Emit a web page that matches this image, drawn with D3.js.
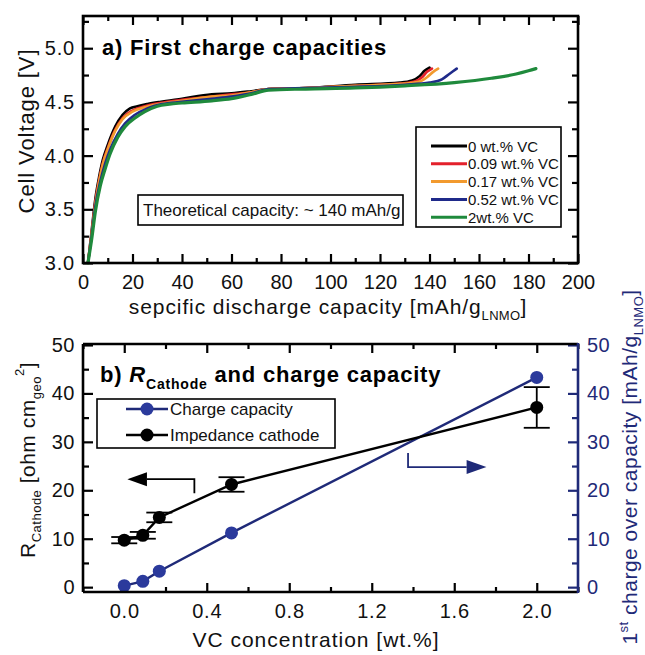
<!DOCTYPE html>
<html><head><meta charset="utf-8">
<script src="https://cdn.jsdelivr.net/npm/d3@7"></script>
<style>
html,body{margin:0;padding:0;background:#fff;}
svg{display:block;font-family:"Liberation Sans",Arial,sans-serif;}
</style></head><body>
<svg id="c" width="645" height="655"></svg>
<script>
// ---------- Panel a data ----------
const seriesNames = ["0 wt.% VC","0.09 wt.% VC","0.17 wt.% VC","0.52 wt.% VC","2wt.% VC"];
const seriesColors = ["#000000","#e3212b","#f29a2e","#1f2a8a","#1f8a3c"];
const curve0 = [[2,3.0],[3.5,3.3],[5,3.6],[6.5,3.8],[8,3.96],[10,4.1],[13,4.27],[16,4.38],[19,4.44],[22,4.46],[26,4.48],[31,4.5],[40,4.53],[52,4.57],[60,4.58],[68,4.6],[75,4.62],[90,4.63],[110,4.66],[128,4.68],[133,4.7],[136,4.74],[138,4.79],[140,4.82]];
const curve009 = [[2,3.0],[3.5,3.28],[5,3.57],[6.5,3.77],[8,3.93],[10,4.07],[13,4.24],[16,4.35],[20,4.42],[25,4.46],[31,4.49],[40,4.52],[52,4.55],[60,4.57],[68,4.59],[75,4.62],[90,4.63],[110,4.65],[128,4.67],[134,4.69],[137,4.73],[139,4.78],[141,4.81]];
const curve017 = [[2,3.0],[3.5,3.27],[5,3.55],[6.5,3.76],[8,3.92],[10,4.06],[13,4.23],[16,4.34],[20,4.41],[25,4.45],[31,4.48],[40,4.51],[52,4.55],[60,4.56],[68,4.59],[75,4.62],[90,4.63],[110,4.65],[130,4.67],[136,4.69],[139,4.73],[141.5,4.78],[143.5,4.81]];
const curve052 = [[2,3.0],[3.5,3.25],[5,3.53],[7,3.76],[9,3.93],[11,4.06],[14,4.2],[17,4.3],[21,4.38],[26,4.44],[32,4.48],[40,4.5],[52,4.53],[60,4.55],[68,4.58],[75,4.62],[90,4.63],[110,4.64],[130,4.66],[140,4.68],[145,4.71],[148,4.76],[151,4.81]];
const curve2 = [[2,3.0],[3.5,3.22],[5,3.48],[7,3.72],[9,3.88],[11,4.02],[14,4.17],[17,4.27],[21,4.35],[25,4.41],[30,4.46],[35,4.48],[40,4.49],[52,4.51],[60,4.53],[68,4.57],[75,4.61],[90,4.62],[110,4.63],[130,4.65],[150,4.68],[165,4.72],[175,4.76],[180,4.79],[183,4.81]];
const curves = [curve0, curve009, curve017, curve052, curve2];
const capTicks = [0,20,40,60,80,100,120,140,160,180,200];
const voltTicks = [3.0,3.5,4.0,4.5,5.0];

// ---------- Panel b data ----------
const vcConc = [0, 0.09, 0.17, 0.52, 2.0];
const rCathode = [9.7, 10.7, 14.4, 21.2, 37.1];
const rErr = [0.65, 0.7, 1.0, 1.5, 4.2];
const chargeOver = [0.3, 1.2, 3.3, 11.2, 43.3];
const vcTicks = [0.0,0.4,0.8,1.2,1.6,2.0];
const rTicks = [0,10,20,30,40,50];

const svg = d3.select("#c");
const navy = "#1f2a78";
const FONT_TICK = 20, FONT_LABEL = 21, LS = "0.9px";

// ================= Panel a =================
const A = {l:83, r:578, t:16, b:263};
const xa = d3.scaleLinear().domain([0,200]).range([A.l,A.r]);
const ya = d3.scaleLinear().domain([3.0,5.3]).range([A.b,A.t]);
const ga = svg.append("g");

// bottom axis
ga.append("g").attr("transform",`translate(0,${A.b})`)
  .call(d3.axisBottom(xa).tickValues(capTicks).tickFormat(d3.format("d")).tickSize(-9).tickPadding(12))
  .call(g=>{g.select(".domain").remove(); g.selectAll("text").attr("font-size",FONT_TICK).attr("fill","#111");});
ga.append("g").attr("transform",`translate(0,${A.b})`)
  .call(d3.axisBottom(xa).tickValues(d3.range(10,200,20)).tickFormat("").tickSize(-5))
  .call(g=>g.select(".domain").remove());
// top axis
ga.append("g").attr("transform",`translate(0,${A.t})`)
  .call(d3.axisTop(xa).tickValues(capTicks).tickFormat("").tickSize(-9))
  .call(g=>g.select(".domain").remove());
ga.append("g").attr("transform",`translate(0,${A.t})`)
  .call(d3.axisTop(xa).tickValues(d3.range(10,200,20)).tickFormat("").tickSize(-5))
  .call(g=>g.select(".domain").remove());
// left axis
ga.append("g").attr("transform",`translate(${A.l},0)`)
  .call(d3.axisLeft(ya).tickValues(voltTicks).tickFormat(d3.format(".1f")).tickSize(-10).tickPadding(8))
  .call(g=>{g.select(".domain").remove(); g.selectAll("text").attr("font-size",FONT_TICK).attr("fill","#111").attr("letter-spacing","0.8px");});
ga.append("g").attr("transform",`translate(${A.l},0)`)
  .call(d3.axisLeft(ya).tickValues([3.25,3.75,4.25,4.75,5.25]).tickFormat("").tickSize(-6))
  .call(g=>g.select(".domain").remove());
// right axis
ga.append("g").attr("transform",`translate(${A.r},0)`)
  .call(d3.axisRight(ya).tickValues(voltTicks).tickFormat("").tickSize(-10))
  .call(g=>g.select(".domain").remove());
ga.append("g").attr("transform",`translate(${A.r},0)`)
  .call(d3.axisRight(ya).tickValues([3.25,3.75,4.25,4.75,5.25]).tickFormat("").tickSize(-6))
  .call(g=>g.select(".domain").remove());
ga.selectAll(".tick line").attr("stroke","#000").attr("stroke-width",2.2);

// curves
const lineA = d3.line().x(d=>xa(d[0])).y(d=>ya(d[1])).curve(d3.curveMonotoneX);
curves.forEach((c,i)=>{
  ga.append("path").datum(c).attr("d",lineA).attr("fill","none")
    .attr("stroke",seriesColors[i]).attr("stroke-width", i===4?3.2:2.6)
    .attr("stroke-linejoin","round").attr("stroke-linecap","round");
});
// frame
ga.append("rect").attr("x",A.l).attr("y",A.t).attr("width",A.r-A.l).attr("height",A.b-A.t)
  .attr("fill","none").attr("stroke","#000").attr("stroke-width",2.6);

// title
ga.append("text").attr("x",102).attr("y",55).attr("font-size",22).attr("font-weight","bold")
  .attr("letter-spacing","0.8px").text("a) First charge capacities");
// theoretical box
ga.append("rect").attr("x",138).attr("y",195).attr("width",265).attr("height",30)
  .attr("fill","#fff").attr("stroke","#000").attr("stroke-width",1.6);
ga.append("text").attr("x",143).attr("y",216).attr("font-size",17).attr("fill","#111")
  .text("Theoretical capacity: ~ 140 mAh/g");
// legend
ga.append("rect").attr("x",416).attr("y",127).attr("width",145).attr("height",100)
  .attr("fill","#fff").attr("stroke","#000").attr("stroke-width",1.6);
seriesNames.forEach((n,i)=>{
  const y = 146 + i*17.8;
  ga.append("line").attr("x1",431).attr("x2",467).attr("y1",y).attr("y2",y)
    .attr("stroke",seriesColors[i]).attr("stroke-width",3);
  ga.append("text").attr("x",468).attr("y",y+5.5).attr("font-size",15).attr("fill","#111").text(n);
});
// axis labels
const xla = ga.append("text").attr("x",328).attr("y",314).attr("text-anchor","middle")
  .attr("font-size",FONT_LABEL).attr("fill","#111").attr("letter-spacing",LS);
xla.append("tspan").text("sepcific discharge capacity [mAh/g");
xla.append("tspan").attr("font-size",13).attr("dy",6).attr("letter-spacing","0.3px").text("LNMO");
xla.append("tspan").attr("dy",-6).text("]");
ga.append("text").attr("transform",`translate(34,131) rotate(-90)`).attr("text-anchor","middle")
  .attr("font-size",FONT_LABEL+1).attr("fill","#111").attr("letter-spacing",LS).text("Cell Voltage [V]");

// ================= Panel b =================
const B = {l:83, r:578, t:344, b:592};
const xb = d3.scaleLinear().domain([-0.2,2.2]).range([B.l,B.r]);
const yb = d3.scaleLinear().domain([-1,50.2]).range([B.b,B.t]);
const yb2 = d3.scaleLinear().domain([-1,50.2]).range([B.b,B.t]);
const gb = svg.append("g");

gb.append("g").attr("transform",`translate(0,${B.b})`)
  .call(d3.axisBottom(xb).tickValues(vcTicks).tickFormat(d3.format(".1f")).tickSize(-9).tickPadding(12))
  .call(g=>{g.select(".domain").remove(); g.selectAll("text").attr("font-size",FONT_TICK).attr("fill","#111").attr("letter-spacing","0.8px");});
gb.append("g").attr("transform",`translate(0,${B.b})`)
  .call(d3.axisBottom(xb).tickValues([-0.2,0.2,0.6,1.0,1.4,1.8,2.2]).tickFormat("").tickSize(-5))
  .call(g=>g.select(".domain").remove());
gb.append("g").attr("transform",`translate(0,${B.t})`)
  .call(d3.axisTop(xb).tickValues(vcTicks).tickFormat("").tickSize(-9))
  .call(g=>g.select(".domain").remove());
gb.append("g").attr("transform",`translate(0,${B.t})`)
  .call(d3.axisTop(xb).tickValues([-0.2,0.2,0.6,1.0,1.4,1.8,2.2]).tickFormat("").tickSize(-5))
  .call(g=>g.select(".domain").remove());
gb.append("g").attr("transform",`translate(${B.l},0)`)
  .call(d3.axisLeft(yb).tickValues(rTicks).tickFormat(d3.format("d")).tickSize(-10).tickPadding(8))
  .call(g=>{g.select(".domain").remove(); g.selectAll("text").attr("font-size",FONT_TICK).attr("fill","#111").attr("letter-spacing","0.5px");});
gb.append("g").attr("transform",`translate(${B.l},0)`)
  .call(d3.axisLeft(yb).tickValues([5,15,25,35,45]).tickFormat("").tickSize(-6))
  .call(g=>g.select(".domain").remove());
gb.selectAll(".tick line").attr("stroke","#000").attr("stroke-width",2.2);
// right axis (navy)
const gr = gb.append("g").attr("transform",`translate(${B.r},0)`);
gr.append("g").call(d3.axisRight(yb2).tickValues(rTicks).tickFormat(d3.format("d")).tickSize(-10).tickPadding(9))
  .call(g=>{g.select(".domain").remove(); g.selectAll("text").attr("font-size",FONT_TICK).attr("fill",navy).attr("letter-spacing","0.5px");});
gr.append("g").call(d3.axisRight(yb2).tickValues([5,15,25,35,45]).tickFormat("").tickSize(-6))
  .call(g=>g.select(".domain").remove());
gr.selectAll(".tick line").attr("stroke",navy).attr("stroke-width",2.2);

// lines
const lineR = d3.line().x((d,i)=>xb(vcConc[i])).y(d=>yb(d));
const lineC = d3.line().x((d,i)=>xb(vcConc[i])).y(d=>yb2(d));
gb.append("path").datum(chargeOver).attr("d",lineC).attr("fill","none").attr("stroke",navy).attr("stroke-width",2.4);
gb.append("path").datum(rCathode).attr("d",lineR).attr("fill","none").attr("stroke","#000").attr("stroke-width",2.4);
// error bars
const capW = 13;
vcConc.forEach((x,i)=>{
  const cx = xb(x), y1 = yb(rCathode[i]+rErr[i]), y0 = yb(rCathode[i]-rErr[i]);
  gb.append("line").attr("x1",cx).attr("x2",cx).attr("y1",y1).attr("y2",y0).attr("stroke","#000").attr("stroke-width",1.8);
  [y1,y0].forEach(yy=>gb.append("line").attr("x1",cx-capW).attr("x2",cx+capW).attr("y1",yy).attr("y2",yy)
    .attr("stroke","#000").attr("stroke-width",1.8));
});
// markers
gb.selectAll("circle.c").data(chargeOver).join("circle").attr("class","c")
  .attr("cx",(d,i)=>xb(vcConc[i])).attr("cy",d=>yb2(d)).attr("r",6.5).attr("fill","#2b3a9c");
gb.selectAll("circle.r").data(rCathode).join("circle").attr("class","r")
  .attr("cx",(d,i)=>xb(vcConc[i])).attr("cy",d=>yb(d)).attr("r",6.5).attr("fill","#000");

// frame
gb.append("line").attr("x1",B.l).attr("x2",B.r).attr("y1",B.t).attr("y2",B.t).attr("stroke","#000").attr("stroke-width",2.6);
gb.append("line").attr("x1",B.l).attr("x2",B.r).attr("y1",B.b).attr("y2",B.b).attr("stroke","#000").attr("stroke-width",2.6);
gb.append("line").attr("x1",B.l).attr("x2",B.l).attr("y1",B.t).attr("y2",B.b).attr("stroke","#000").attr("stroke-width",2.6);
gb.append("line").attr("x1",B.r).attr("x2",B.r).attr("y1",B.t-1).attr("y2",B.b+1).attr("stroke",navy).attr("stroke-width",2.6);

// title b
const tb = gb.append("text").attr("x",100).attr("y",382).attr("font-size",22).attr("font-weight","bold")
  .attr("letter-spacing","0.8px");
tb.append("tspan").text("b) ");
tb.append("tspan").attr("font-style","italic").text("R");
tb.append("tspan").attr("font-size",14).attr("dy",7).text("Cathode");
tb.append("tspan").attr("dy",-7).text(" and charge capacity");

// legend b
gb.append("rect").attr("x",97).attr("y",399).attr("width",238).attr("height",49)
  .attr("fill","#fff").attr("stroke","#000").attr("stroke-width",1.6);
const legB = [["Charge capacity",navy,"#2b3a9c"],["Impedance cathode","#000","#000"]];
legB.forEach((d,i)=>{
  const y = 409 + i*26;
  gb.append("line").attr("x1",126).attr("x2",168).attr("y1",y).attr("y2",y).attr("stroke",d[1]).attr("stroke-width",2.4);
  gb.append("circle").attr("cx",147).attr("cy",y).attr("r",6.5).attr("fill",d[2]);
  gb.append("text").attr("x",170).attr("y",y+6).attr("font-size",17).attr("fill","#111").text(d[0]);
});

// arrows
const arrowK = {tipX:0.015, baseX:0.11, cornerX:0.34, yTop:22.3, yBot:19.4};
gb.append("path").attr("d",`M${xb(arrowK.baseX)},${yb(arrowK.yTop)} H${xb(arrowK.cornerX)} V${yb(arrowK.yBot)}`)
  .attr("fill","none").attr("stroke","#000").attr("stroke-width",1.8);
gb.append("path").attr("d",`M${xb(arrowK.tipX)},${yb(arrowK.yTop)} L${xb(arrowK.baseX)},${yb(arrowK.yTop)-7} L${xb(arrowK.baseX)},${yb(arrowK.yTop)+7}Z`).attr("fill","#000");
const arrowB = {cornerX:1.376, yTop:27.7, yH:24.8, baseX:1.66, tipX:1.756};
gb.append("path").attr("d",`M${xb(arrowB.cornerX)},${yb2(arrowB.yTop)} V${yb2(arrowB.yH)} H${xb(arrowB.baseX)}`)
  .attr("fill","none").attr("stroke",navy).attr("stroke-width",1.8);
gb.append("path").attr("d",`M${xb(arrowB.tipX)},${yb2(arrowB.yH)} L${xb(arrowB.baseX)},${yb2(arrowB.yH)-7} L${xb(arrowB.baseX)},${yb2(arrowB.yH)+7}Z`).attr("fill",navy);

// axis labels b
gb.append("text").attr("x",316).attr("y",647).attr("text-anchor","middle").attr("font-size",FONT_LABEL)
  .attr("fill","#111").attr("letter-spacing","1px").text("VC concentration [wt.%]");
const yl = gb.append("text").attr("transform","translate(35,460) rotate(-90)").attr("text-anchor","middle")
  .attr("font-size",FONT_LABEL).attr("fill","#111").attr("letter-spacing","0.5px");
yl.append("tspan").text("R");
yl.append("tspan").attr("font-size",13).attr("dy",6).text("Cathode");
yl.append("tspan").attr("dy",-6).text(" [ohm cm");
yl.append("tspan").attr("font-size",13).attr("dy",6).text("geo");
yl.append("tspan").attr("font-size",13).attr("dy",-17).text("2");
yl.append("tspan").attr("dy",11).text("]");
const yr = gb.append("text").attr("transform","translate(637,467) rotate(-90)").attr("text-anchor","middle")
  .attr("font-size",FONT_LABEL).attr("fill",navy).attr("letter-spacing","0.5px");
yr.append("tspan").text("1");
yr.append("tspan").attr("font-size",13).attr("dy",-9).text("st");
yr.append("tspan").attr("dy",9).text(" charge over capacity [mAh/g");
yr.append("tspan").attr("font-size",13).attr("dy",6).text("LNMO");
yr.append("tspan").attr("dy",-6).text("]");
</script>
</body></html>
